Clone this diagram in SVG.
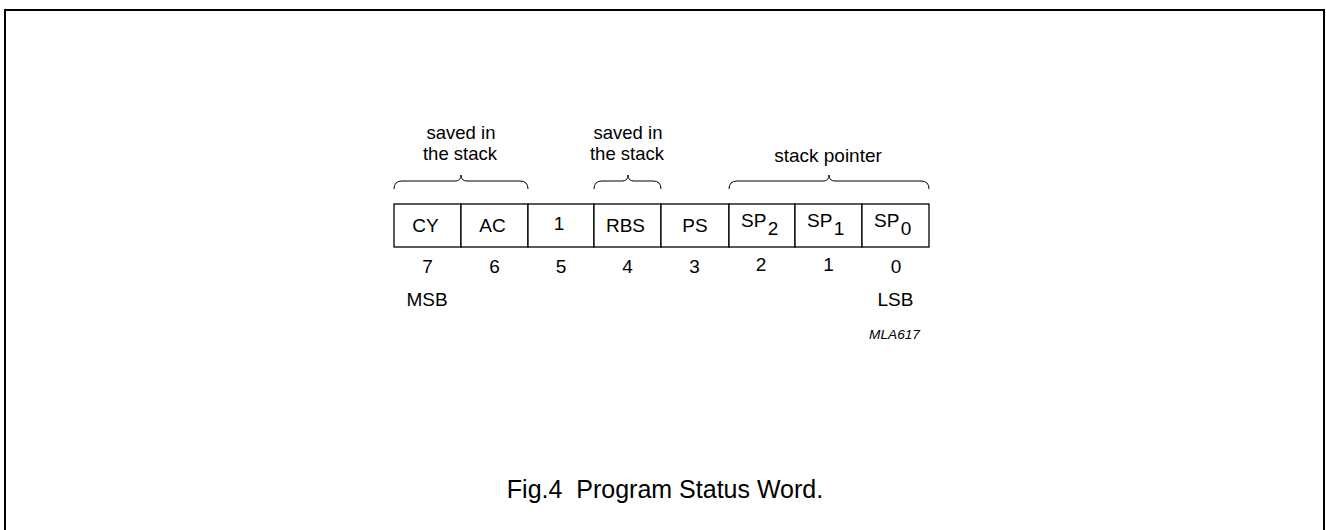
<svg xmlns="http://www.w3.org/2000/svg" width="1326" height="530" viewBox="0 0 1326 530">
  <style>
    .t { font-family: "Liberation Sans", Arial, sans-serif; font-size: 19px; fill: #000; }
    .mid { text-anchor: middle; }
    .two { font-size: 18.5px; }
    .cell { fill: #fff; stroke: #000; stroke-width: 1.3; }
    .brace { fill: none; stroke: #000; stroke-width: 1; }
    .frame { fill: none; stroke: #000; stroke-width: 2; }
    .code { font-size: 13.7px; font-style: italic; }
    .caption { font-size: 25px; }
  </style>

  <rect width="1326" height="530" fill="#fff"/>
  <!-- outer frame, open at the bottom -->
  <path class="frame" d="M5,540 L5,10 L1324,10 L1324,540"/>

  <!-- braces over the grouped bits -->
  <g id="connectors">
    <path class="brace" d="M394,189 Q394,181 402,181 L455,181 Q461,181 461,175 Q461,181 467,181 L520,181 Q528,181 528,189"/>
    <path class="brace" d="M594,189 Q594,181 602,181 L622,181 Q628,181 628,175 Q628,181 634,181 L653,181 Q661,181 661,189"/>
    <path class="brace" d="M729,189 Q729,181 737,181 L823,181 Q829,181 829,175 Q829,181 835,181 L921,181 Q929,181 929,189"/>
  </g>

  <!-- two-line labels -->
  <g id="label-saved-1">
    <text class="t mid two" x="461" y="138.8">saved in</text>
    <text class="t mid two" x="460" y="159.6">the stack</text>
  </g>
  <g id="label-saved-2">
    <text class="t mid two" x="628" y="138.8">saved in</text>
    <text class="t mid two" x="627" y="159.6">the stack</text>
  </g>
  <g id="label-sp">
    <text class="t mid" x="828" y="161.5">stack pointer</text>
  </g>

  <!-- register cells, bit 7 on the left -->
  <g id="bit7"><rect class="cell" x="394" y="204" width="67" height="43"/><text class="t mid" x="425.5" y="231.5">CY</text><text class="t mid" x="427.5" y="273">7</text></g>
  <g id="bit6"><rect class="cell" x="461" y="204" width="67" height="43"/><text class="t mid" x="492.5" y="231.5">AC</text><text class="t mid" x="494.5" y="273">6</text></g>
  <g id="bit5"><rect class="cell" x="528" y="204" width="66" height="43"/><text class="t mid" x="559" y="230">1</text><text class="t mid" x="561" y="273">5</text></g>
  <g id="bit4"><rect class="cell" x="594" y="204" width="67" height="43"/><text class="t mid" x="625.5" y="231.5">RBS</text><text class="t mid" x="627.5" y="273">4</text></g>
  <g id="bit3"><rect class="cell" x="661" y="204" width="68" height="43"/><text class="t mid" x="695" y="231.5">PS</text><text class="t mid" x="694.5" y="273">3</text></g>
  <g id="bit2"><rect class="cell" x="729" y="204" width="66" height="43"/><text class="t" x="741" y="226.5">SP<tspan dx="1.5" dy="8.5">2</tspan></text><text class="t mid" x="761" y="271">2</text></g>
  <g id="bit1"><rect class="cell" x="795" y="204" width="67" height="43"/><text class="t" x="807" y="226.5">SP<tspan dx="1.5" dy="8.5">1</tspan></text><text class="t mid" x="828.5" y="271">1</text></g>
  <g id="bit0"><rect class="cell" x="862" y="204" width="67" height="43"/><text class="t" x="874" y="226.5">SP<tspan dx="1.5" dy="8.5">0</tspan></text><text class="t mid" x="896" y="273">0</text></g>

  <g id="msb"><text class="t mid" x="427" y="306">MSB</text></g>
  <g id="lsb"><text class="t mid" x="895.5" y="306">LSB</text></g>
  <g id="code"><text class="t mid code" x="894.5" y="339">MLA617</text></g>

  <g id="caption"><text class="t mid caption" x="665" y="498" xml:space="preserve">Fig.4  Program Status Word.</text></g>
</svg>
